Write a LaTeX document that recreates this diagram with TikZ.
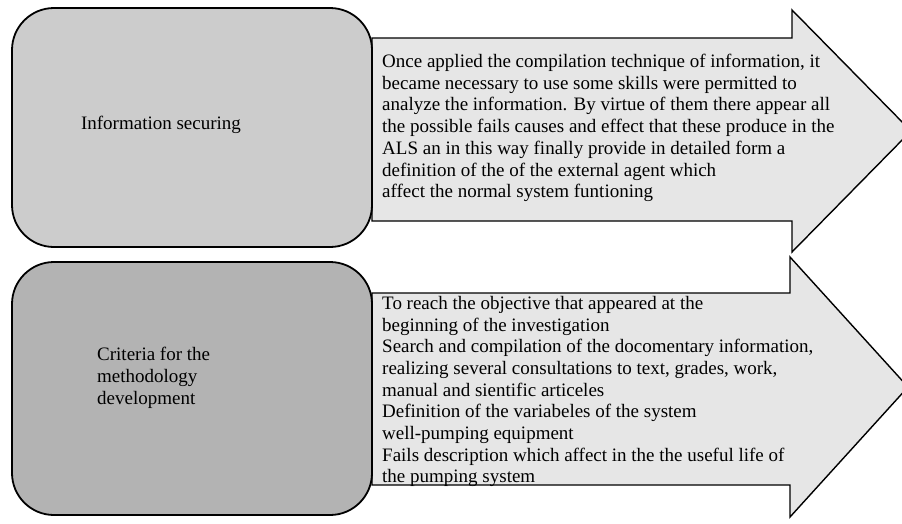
\documentclass[tikz,border=0pt]{standalone}
\usepackage{fontspec}
\setmainfont{Liberation Serif}
\definecolor{boxtop}{HTML}{CCCCCC}
\definecolor{boxbot}{HTML}{B3B3B3}
\definecolor{arrowfill}{HTML}{E6E6E6}
\begin{document}
\begin{tikzpicture}[x=1pt,y=-1pt,
  roundbox/.style={draw=black,line width=1.8pt,rounded corners=42pt},
  bigarrow/.style={draw=black,line width=1.4pt,fill=arrowfill,line join=miter},
  txt/.style={font=\fontsize{19}{21.7}\selectfont,inner sep=0pt,align=left,text=black}
]
\clip (0,0) rectangle (902,523);
\fill[white] (0,0) rectangle (902,523);
% arrows
\draw[bigarrow] (372,38) -- (792,38) -- (792,10) -- (911,131) -- (792,252) -- (792,221) -- (372,221) -- cycle;
\draw[bigarrow] (372,293) -- (790,293) -- (790,257) -- (908,387) -- (790,517) -- (790,485) -- (372,485) -- cycle;
% rounded boxes
\draw[roundbox,fill=boxtop] (12,8) rectangle (372,247);
\draw[roundbox,fill=boxbot] (12,262) rectangle (372,515);
% labels
\node[txt] (l1) at (161,125) {Information securing};
\node[txt,anchor=west] (l2) at (97,378) {Criteria for the\\methodology\\development};
% arrow texts
\node[txt,anchor=north west] (t1) at (382,54) {Once applied the compilation technique of information, it\\became necessary to use some skills were permitted to\\analyze the information. By virtue of them there appear all\\the possible fails causes and effect that these produce in the\\ALS an in this way finally provide in detailed form a\\definition of the of the external agent which\\affect the normal system funtioning};
\node[txt,anchor=north west] (t2) at (382,296) {To reach the objective that appeared at the\\beginning of the investigation\\Search and compilation of the docomentary information,\\realizing several consultations to text, grades, work,\\manual and sientific articeles\\Definition of the variabeles of the system\\well-pumping equipment\\Fails description which affect in the the useful life of\\the pumping system};
\end{tikzpicture}
\end{document}
